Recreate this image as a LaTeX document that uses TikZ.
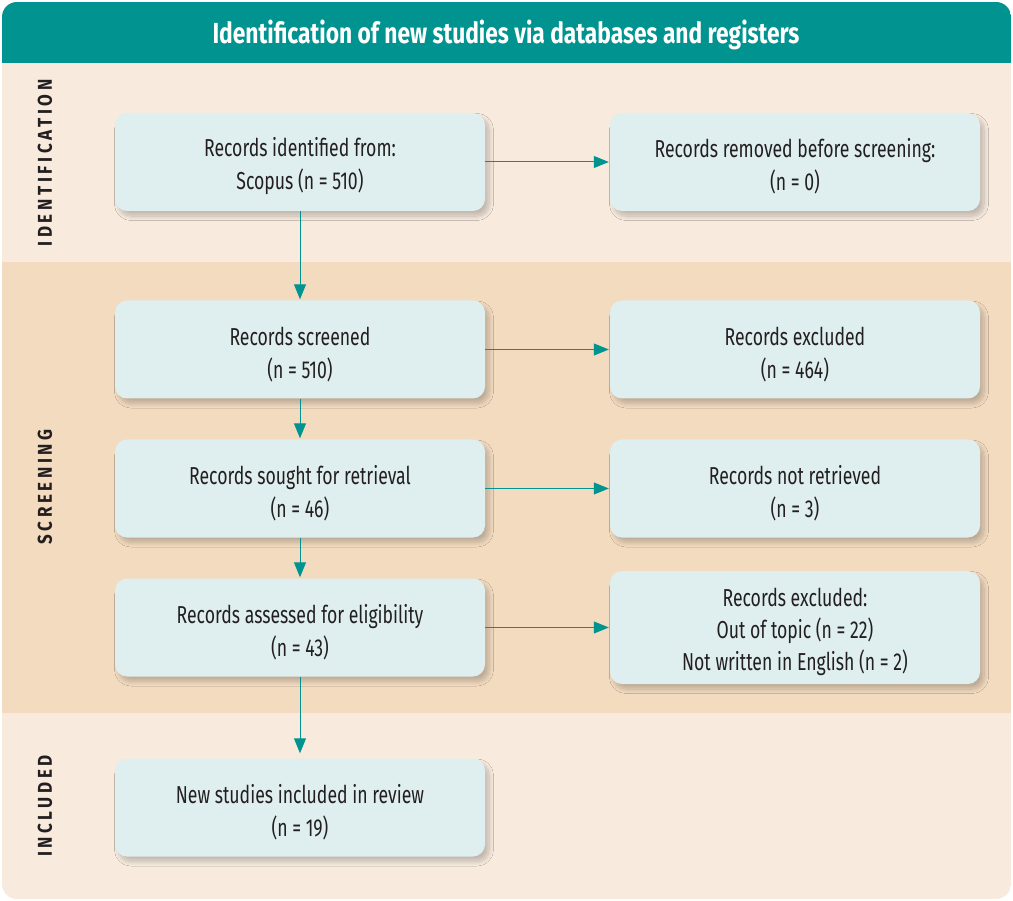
\documentclass[tikz,border=0pt]{standalone}
\usepackage{fontspec}
\setmainfont{Fira Sans}[FakeStretch=0.72]
\newfontfamily\titlefont{Fira Sans}[FakeStretch=0.785]
\newfontfamily\sidefont{Fira Sans}[FakeStretch=0.85,LetterSpace=18]
\usetikzlibrary{arrows.meta,shadows.blur}
\definecolor{prteal}{HTML}{00938F}
\definecolor{bandlight}{HTML}{F8EBDE}
\definecolor{banddark}{HTML}{F3DBC0}
\definecolor{boxfill}{HTML}{DFEEEF}
\definecolor{txt}{HTML}{231F20}
\newcommand\topgap{\rule{0pt}{28pt}}
\begin{document}
\begin{tikzpicture}[x=1pt,y=-1pt,
  box/.style={draw=none, fill=boxfill, rounded corners=12pt, minimum width=370pt,
    minimum height=98pt, align=center, text=txt, inner sep=0pt,
    font=\fontsize{24.5}{33}\selectfont,
    blur shadow={shadow xshift=4pt, shadow yshift=-5pt, shadow blur radius=4.5pt, shadow opacity=22, shadow blur steps=12}},
  arr/.style={draw=prteal, line width=1pt, -{Triangle[length=15pt,width=12pt]}, shorten >=1pt},
  side/.style={rotate=90, text=txt, font=\sidefont\fontsize{20}{22}\selectfont\bfseries}
]
\useasboundingbox (0,0) rectangle (1013,901);
\fill[white] (0,0) rectangle (1013,901);
\begin{scope}
  \clip[rounded corners=15pt] (2,2) rectangle (1011,899);
  \fill[bandlight] (2,2) rectangle (1011,899);
  \fill[prteal] (2,2) rectangle (1011,63);
  \fill[banddark] (2,262) rectangle (1011,713);
\end{scope}
\node[text=white, font=\titlefont\fontsize{29}{31}\selectfont\bfseries] (title) at (506,35) {Identification of new studies via databases and registers};
\node[side] (sid) at (45,163) {IDENTIFICATION};
\node[side] (sscr) at (45,487) {SCREENING};
\node[side] (sinc) at (45,806) {INCLUDED};

\node[box] (b1) at (300,162) {\topgap Records identified from:\\Scopus (n = 510)};
\node[box] (r1) at (795,162) {\topgap Records removed before screening:\\(n = 0)};
\node[box] (b2) at (300,349.5) {\topgap Records screened\\(n = 510)};
\node[box] (r2) at (795,349.5) {\topgap Records excluded\\(n = 464)};
\node[box] (b3) at (300,488.5) {\topgap Records sought for retrieval\\(n = 46)};
\node[box] (r3) at (795,488.5) {\topgap Records not retrieved\\(n = 3)};
\node[box] (b4) at (300,627.5) {\topgap Records assessed for eligibility\\(n = 43)};
\node[box, minimum height=113pt, font=\fontsize{24.5}{32}\selectfont] (r4) at (795,627.5) {\topgap Records excluded:\\Out of topic (n = 22)\\Not written in English (n = 2)};
\node[box] (b5) at (300,807.5) {\topgap New studies included in review\\(n = 19)};

\draw[arr] (b1) -- (b2);
\draw[arr] (b2) -- (b3);
\draw[arr] (b3) -- (b4);
\draw[arr, shorten >=5pt] (b4) -- (b5);
\draw[arr] (b1) -- (r1);
\draw[arr] (b2) -- (r2);
\draw[arr] (b3) -- (r3);
\draw[arr] (b4) -- (r4);
\end{tikzpicture}
\end{document}
